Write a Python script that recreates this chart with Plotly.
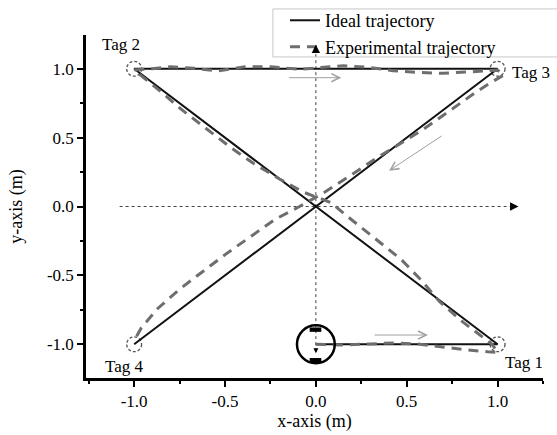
import plotly.graph_objects as go

# ---------------- data ----------------
ideal_x = [0.0, 1.0, -1.0, 1.0, -1.0]
ideal_y = [-1.0, -1.0, 1.0, 1.0, -1.0]

exp_x = [0.0, 0.14, 0.30, 0.43, 0.56, 0.72, 0.83, 0.945, 1.0,
         0.97, 0.81, 0.68, 0.58, 0.47, 0.34, 0.205, 0.08, -0.07, -0.20, -0.34, -0.47, -0.60, -0.74, -0.875, -1.0,
         -0.90, -0.80, -0.67, -0.54, -0.39, -0.25, -0.09, 0.15, 0.29, 0.425, 0.55, 0.70, 0.84, 0.94, 1.0, 1.035,
         0.95, 0.877, 0.72, 0.58, 0.45, 0.32, 0.19, 0.05, -0.09, -0.22, -0.35, -0.49, -0.62, -0.75, -0.87, -0.96, -0.99]
exp_y = [-1.0, -1.005, -0.998, -0.99, -0.998, -1.025, -1.04, -1.055, -1.06,
         -1.0, -0.84, -0.69, -0.535, -0.385, -0.25, -0.105, 0.03, 0.105, 0.20, 0.31, 0.43, 0.56, 0.705, 0.858, 0.99,
         1.0, 1.015, 1.003, 0.984, 1.015, 1.015, 0.996, 1.022, 1.01, 0.986, 0.974, 0.967, 0.977, 0.986, 0.99, 0.955,
         0.89, 0.826, 0.68, 0.55, 0.445, 0.34, 0.225, 0.105, 0.0, -0.09, -0.21, -0.34, -0.47, -0.60, -0.74, -0.88, -0.95]

tag_names = ["Tag 1", "Tag 2", "Tag 3", "Tag 4"]
tag_x = [1.0, -1.0, 1.0, -1.0]
tag_y = [-1.0, 1.0, 1.0, -1.0]
tag_label_x = [1.03, -1.19, 1.07, -1.17]
tag_label_y = [-1.13, 1.173, 0.97, -1.158]

tick_vals = [-1.0, -0.5, 0.0, 0.5, 1.0]
tick_labels = ["-1.0", "-0.5", "0.0", "0.5", "1.0"]
minor_vals = [-1.25, -0.75, -0.25, 0.25, 0.75, 1.25]

FONT = "Liberation Serif"

fig = go.Figure()
fig.add_trace(go.Scatter(x=ideal_x, y=ideal_y, mode="lines", name="Ideal trajectory",
                         line=dict(color="#111111", width=2)))
fig.add_trace(go.Scatter(x=exp_x, y=exp_y, mode="lines", name="Experimental trajectory",
                         line=dict(color="#6e6e6e", width=3, dash="10px,7px")))

shapes = []
# dotted reference axes
shapes.append(dict(type="line", xref="x", yref="y", x0=-1.08, y0=0, x1=1.09, y1=0,
                   line=dict(color="#444444", width=1, dash="3px,3px"), layer="below"))
shapes.append(dict(type="line", xref="x", yref="y", x0=0, y0=-1.05, x1=0, y1=1.15,
                   line=dict(color="#444444", width=1, dash="3px,3px"), layer="below"))
# tag circles
rx, ry = 0.041, 0.054
for tx, ty in zip(tag_x, tag_y):
    shapes.append(dict(type="circle", xref="x", yref="y", x0=tx - rx, x1=tx + rx, y0=ty - ry, y1=ty + ry,
                       line=dict(color="#555555", width=1.3, dash="3px,2px"), layer="below"))
# robot
shapes.append(dict(type="circle", xref="x", yref="y", x0=-0.104, x1=0.104, y0=-1.138, y1=-0.862,
                   line=dict(color="black", width=2.5)))
shapes.append(dict(type="rect", xref="x", yref="y", x0=-0.034, x1=0.03, y0=-0.91, y1=-0.878,
                   fillcolor="black", line=dict(width=0)))
shapes.append(dict(type="rect", xref="x", yref="y", x0=-0.034, x1=0.03, y0=-1.132, y1=-1.1,
                   fillcolor="black", line=dict(width=0)))
# legend frame
shapes.append(dict(type="rect", xref="paper", yref="paper", x0=0.409, x1=1.2, y0=0.936, y1=1.076,
                   line=dict(color="#c8c8c8", width=1)))

annotations = []
for name, lx, ly in zip(tag_names, tag_label_x, tag_label_y):
    annotations.append(dict(x=lx, y=ly, xref="x", yref="y", text=name, showarrow=False,
                            xanchor="left", yanchor="middle", font=dict(family=FONT, size=17, color="black")))
# arrowheads of dotted axes
annotations.append(dict(x=1.115, y=0, ax=1.08, ay=0, xref="x", yref="y", axref="x", ayref="y", text="",
                        showarrow=True, arrowhead=2, arrowsize=1.4, arrowwidth=1.2, arrowcolor="black"))
annotations.append(dict(x=0, y=1.175, ax=0, ay=1.14, xref="x", yref="y", axref="x", ayref="y", text="",
                        showarrow=True, arrowhead=2, arrowsize=1.4, arrowwidth=1.2, arrowcolor="black"))
annotations.append(dict(x=0, y=-1.065, ax=0, ay=-1.04, xref="x", yref="y", axref="x", ayref="y", text="",
                        showarrow=True, arrowhead=2, arrowsize=1.0, arrowwidth=1.0, arrowcolor="black"))
# gray direction arrows
arrow_specs = [(-0.155, 0.935, 0.14, 0.935), (0.315, -0.933, 0.617, -0.933), (0.70, 0.519, 0.403, 0.26)]
for x0, y0, x1, y1 in arrow_specs:
    annotations.append(dict(x=x1, y=y1, ax=x0, ay=y0, xref="x", yref="y", axref="x", ayref="y", text="",
                            showarrow=True, arrowhead=5, arrowsize=1.6, arrowwidth=1, arrowcolor="#a0a0a0"))

axis_common = dict(showline=True, linewidth=2.5, linecolor="black", ticks="outside", ticklen=6, tickwidth=2,
                   tickcolor="black", tickvals=tick_vals, ticktext=tick_labels, showgrid=False, zeroline=False,
                   automargin=False,
                   tickfont=dict(family=FONT, size=17, color="black"),
                   minor=dict(tickvals=minor_vals, ticks="outside", ticklen=3.5, tickwidth=2, tickcolor="black"))

fig.update_layout(
    width=557, height=435,
    margin=dict(l=86, r=14, t=35, b=57, autoexpand=False),
    plot_bgcolor="white", paper_bgcolor="white",
    font=dict(family=FONT, color="black"),
    xaxis=dict(range=[-1.265, 1.25], title=dict(text="x-axis (m)", font=dict(family=FONT, size=18), standoff=4),
               **axis_common),
    yaxis=dict(range=[-1.245, 1.245], title=dict(text="y-axis (m)", font=dict(family=FONT, size=18), standoff=20),
               **axis_common),
    legend=dict(x=0.4354, y=1.096, xanchor="left", yanchor="top", bgcolor="rgba(0,0,0,0)", borderwidth=0,
                font=dict(family=FONT, size=18, color="black"), tracegroupgap=0),
    shapes=shapes,
    annotations=annotations,
    showlegend=True,
)

fig.write_html("out.html", config={"displayModeBar": False},
               post_script="document.body.style.margin='0';document.body.style.overflow='hidden';")
